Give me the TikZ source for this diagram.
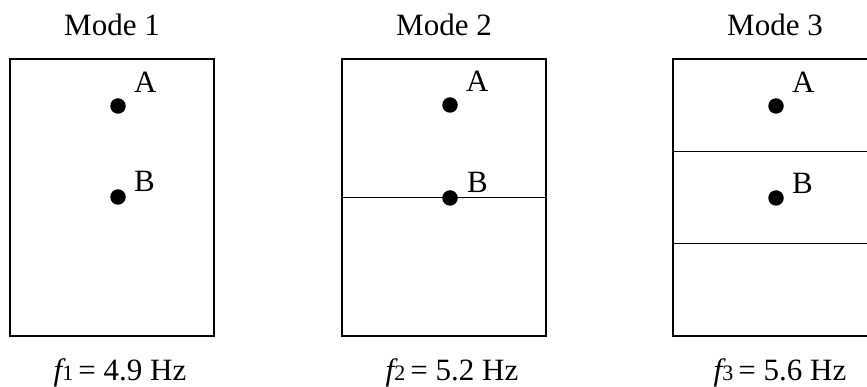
\documentclass[tikz,border=0pt]{standalone}
\usepackage{fontspec}
\setmainfont{Liberation Serif}
\usetikzlibrary{calc, positioning}

\begin{document}
\begin{tikzpicture}[
    x=1pt, y=-1pt,
    font=\fontsize{31}{36}\selectfont,
    % --- Mode Shape Box ---
    mode box/.style={
        draw=black,
        line width=1.1pt,
        minimum width=204pt,
        minimum height=277pt,
        inner sep=0pt
    },
    % --- Nodal Line ---
    divider/.style={
        draw=black,
        line width=1pt
    },
    % --- Measurement Points ---
    point dot/.style={
        circle,
        fill=black,
        minimum size=15.5pt,
        inner sep=0pt
    },
    % --- Text Labels ---
    point label/.style={
        anchor=base west,
        inner sep=0pt
    },
    mode title/.style={
        anchor=base,
        inner sep=0pt
    },
    freq label/.style={
        anchor=base,
        inner sep=0pt
    }
]

    % fixed canvas
    \path[use as bounding box, clip] (0,0) rectangle (867,387);

    % =========================================
    % 1. MODE BOXES
    % =========================================

    \node[mode box] (box1) at (112,197.5) {};
    \node[mode box] (box2) at (444,197.5) {};
    \node[mode box] (box3) at (775,197.5) {};

    % Nodal lines
    \draw[divider] ($(box2.north west)!0.5!(box2.south west)$) -- ($(box2.north east)!0.5!(box2.south east)$);
    \draw[divider] ($(box3.north west)!0.336!(box3.south west)$) -- ($(box3.north east)!0.336!(box3.south east)$);
    \draw[divider] ($(box3.north west)!0.664!(box3.south west)$) -- ($(box3.north east)!0.664!(box3.south east)$);

    % =========================================
    % 2. POINTS A AND B
    % =========================================

    \node[point dot] (dotA1) at (118,106) {};
    \node[point dot] (dotB1) at (118,197) {};
    \node[point dot] (dotA2) at (450,105) {};
    \node[point dot] (dotB2) at (450,198) {};
    \node[point dot] (dotA3) at (776,106) {};
    \node[point dot] (dotB3) at (776,198) {};

    \node[point label] (labA1) at ([xshift=16pt, yshift=13pt]dotA1.center) {A};
    \node[point label] (labB1) at ([xshift=16pt, yshift=5pt]dotB1.center) {B};
    \node[point label] (labA2) at ([xshift=16pt, yshift=13pt]dotA2.center) {A};
    \node[point label] (labB2) at ([xshift=17pt, yshift=5pt]dotB2.center) {B};
    \node[point label] (labA3) at ([xshift=16pt, yshift=13pt]dotA3.center) {A};
    \node[point label] (labB3) at ([xshift=16pt, yshift=4pt]dotB3.center) {B};

    % =========================================
    % 3. TITLES AND FREQUENCIES
    % =========================================

    \node[mode title] (title1) at ([yshift=23pt]box1.north) {Mode 1};
    \node[mode title] (title2) at ([yshift=23pt]box2.north) {Mode 2};
    \node[mode title] (title3) at ([yshift=23pt]box3.north) {Mode 3};

    \node[freq label] (freq1) at ([xshift=8pt, yshift=-44pt]box1.south)
        {{\itshape f}{\fontsize{22}{22}\selectfont 1}\,= 4.9 Hz};
    \node[freq label] (freq2) at ([xshift=8pt, yshift=-44pt]box2.south)
        {{\itshape f}{\fontsize{22}{22}\selectfont 2}\,= 5.2 Hz};
    \node[freq label] (freq3) at ([xshift=5pt, yshift=-44pt]box3.south)
        {{\itshape f}{\fontsize{22}{22}\selectfont 3}\,= 5.6 Hz};

\end{tikzpicture}
\end{document}
